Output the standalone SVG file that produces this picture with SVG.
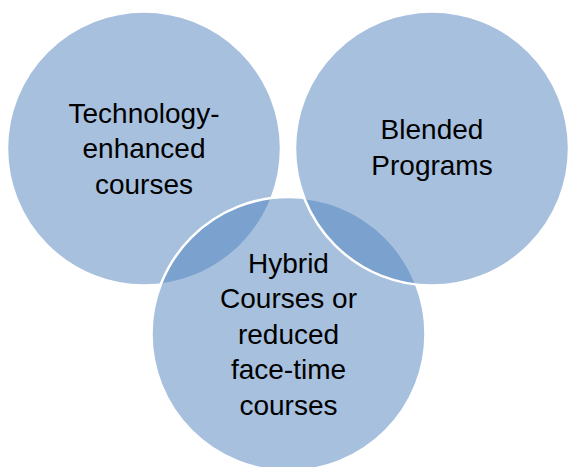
<svg xmlns="http://www.w3.org/2000/svg" width="568" height="467" viewBox="0 0 568 467">
  <style>
    .venn { fill: #4F81BD; fill-opacity: 0.5; stroke: #FFFFFF; stroke-width: 2.5; }
    .label { font-family: "Liberation Sans", Arial, sans-serif; font-size: 28px; fill: #000000; text-anchor: middle; }
  </style>
  <rect width="568" height="467" fill="#FFFFFF"/>
  <g id="technology-enhanced">
    <circle class="venn" cx="144" cy="148.5" r="137"/>
  </g>
  <g id="hybrid-courses">
    <circle class="venn" cx="288.5" cy="334" r="137"/>
  </g>
  <g id="blended-programs">
    <circle class="venn" cx="432" cy="148.5" r="137"/>
  </g>
  <g id="labels">
    <text class="label" x="144" y="123">Technology-</text>
    <text class="label" x="144" y="158">enhanced</text>
    <text class="label" x="144" y="194">courses</text>
    <text class="label" x="432" y="139">Blended</text>
    <text class="label" x="432" y="175">Programs</text>
    <text class="label" x="288.5" y="273">Hybrid</text>
    <text class="label" x="288.5" y="308">Courses or</text>
    <text class="label" x="288.5" y="344">reduced</text>
    <text class="label" x="288.5" y="379">face-time</text>
    <text class="label" x="288.5" y="415">courses</text>
  </g>
</svg>
